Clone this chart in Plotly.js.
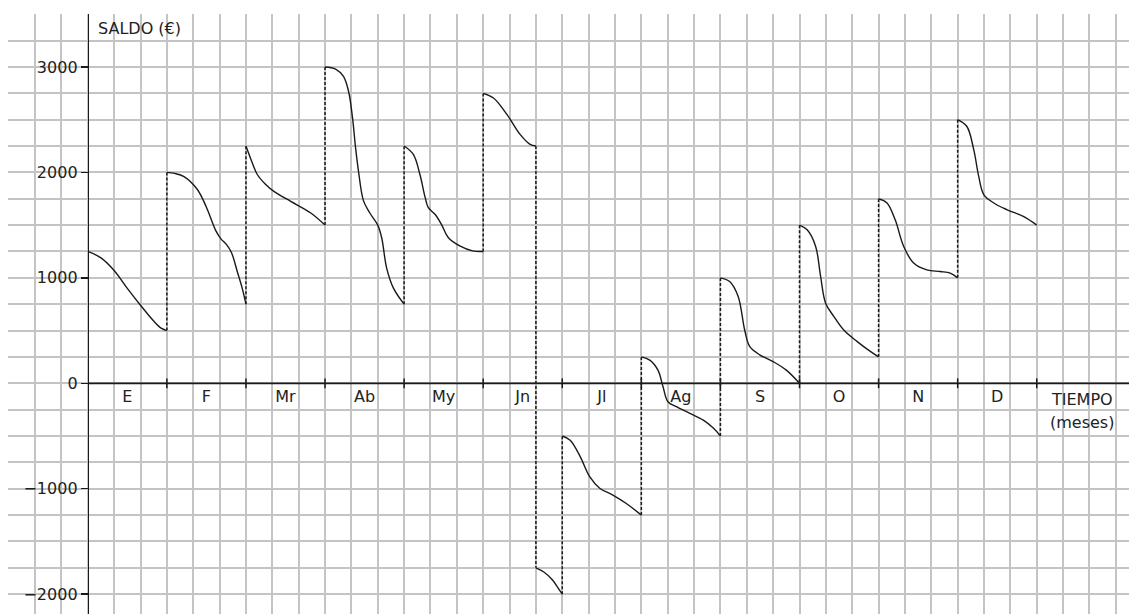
<!DOCTYPE html>
<html>
<head>
<meta charset="utf-8">
<script src="https://cdn.plot.ly/plotly-3.0.1.min.js"></script>
<style>
  html, body { margin: 0; padding: 0; background: #fff; }
  #chart { width: 1129px; height: 614px; }
</style>
</head>
<body>
<div id="chart"></div>
<script>
// ---- data (x in days, 30 days per month; y = saldo in euros) ----
const monthLabels = ["E", "F", "Mr", "Ab", "My", "Jn", "Jl", "Ag", "S", "O", "N", "D"];
const monthCenters = [15, 45, 75, 105, 135, 165, 195, 225, 255, 285, 315, 345];
const monthEnds = [30, 60, 90, 120, 150, 180, 210, 240, 270, 300, 330, 360];

const curveDays = [
  0, 5, 10, 15, 20, 25, 28, 30, null,
  30, 33, 36.5, 41.5, 45, 48.5, 50.5, 52.5, 54.5, 56.7, 58.6, 60, null,
  60, 61.8, 64.3, 67.5, 70.6, 77, 84.6, 90, null,
  90, 94, 97, 99, 100.5, 101.6, 102.7, 104.6, 107, 110, 111.5, 113.4, 116, 120, null,
  120, 123.5, 126, 128, 129.2, 131.8, 134.3, 136.8, 141.3, 146, 150, null,
  150, 153.9, 159, 164, 167.8, 170, null,
  170, 173, 176.3, 178.9, 180, null,
  180, 183, 186.8, 190.4, 194.2, 199.2, 204.3, 210, null,
  210, 213.2, 216.3, 218.2, 220.1, 223.3, 228.4, 233.5, 237.3, 240, null,
  240, 243.5, 246.7, 249.2, 251.1, 254.9, 260, 265, 270, null,
  270, 272.9, 276.1, 278, 279.9, 283, 286.8, 291.9, 297, 300, null,
  300, 303.2, 306.3, 309.5, 313.3, 318.3, 323.4, 327.2, 330, null,
  330, 333.5, 336.1, 338, 339.9, 343.7, 348.8, 355.1, 360
];
const curveSaldo = [
  1250, 1190, 1070, 900, 740, 590, 520, 500, null,
  2000, 1990, 1960, 1840, 1670, 1450, 1370, 1320, 1240, 1060, 900, 750, null,
  2250, 2130, 1980, 1885, 1820, 1725, 1615, 1500, null,
  3000, 2980, 2910, 2760, 2500, 2230, 2010, 1730, 1615, 1500, 1380, 1090, 900, 750, null,
  2250, 2170, 1980, 1760, 1665, 1600, 1500, 1380, 1300, 1255, 1250, null,
  2750, 2705, 2550, 2360, 2265, 2250, null,
  -1750, -1790, -1865, -1960, -2000, null,
  -500, -540, -695, -885, -995, -1060, -1140, -1250, null,
  250, 220, 125, -30, -175, -222, -285, -350, -425, -500, null,
  1000, 965, 825, 505, 350, 270, 205, 125, 0, null,
  1500, 1455, 1300, 1015, 760, 635, 505, 395, 300, 250, null,
  1750, 1710, 1550, 1300, 1140, 1075, 1060, 1045, 1000, null,
  2500, 2435, 2215, 1960, 1790, 1710, 1645, 1580, 1500
];

const jumpDays = [30, 60, 90, 120, 150, 170, 180, 210, 240, 270, 300, 330];
const jumpFrom = [500, 750, 1500, 750, 1250, 2250, -2000, -1250, -500, 0, 250, 1000];
const jumpTo   = [2000, 2250, 3000, 2250, 2750, -1750, -500, 250, 1000, 1500, 1750, 2500];

// ---- build traces ----
const jx = [], jy = [];
jumpDays.forEach((d, i) => { jx.push(d, d, null); jy.push(jumpFrom[i], jumpTo[i], null); });

const xRange = [-30.27, 395.0];
const yRange = [-2188, 3502];
const fontFam = "DejaVu Sans, Liberation Sans, Arial, sans-serif";
const gridCol = "#c4c4c4";

const traces = [
  { x: jx, y: jy, type: "scatter", mode: "lines", connectgaps: false,
    line: { color: "#1a1a1a", width: 1.5, dash: "3px,2px" }, hoverinfo: "skip" },
  { x: curveDays, y: curveSaldo, type: "scatter", mode: "lines", connectgaps: false,
    line: { color: "#1a1a1a", width: 1.4, shape: "spline", smoothing: 1.0 }, hoverinfo: "skip" },
  { x: monthEnds, y: monthEnds.map(() => 0), type: "scatter", mode: "markers",
    marker: { symbol: "line-ns", size: 7, line: { color: "#1a1a1a", width: 1.5 } }, hoverinfo: "skip" }
];

const xPos0 = (0 - xRange[0]) / (xRange[1] - xRange[0]);
const yPos0 = (0 - yRange[0]) / (yRange[1] - yRange[0]);

const layout = {
  width: 1129, height: 614,
  margin: { l: 8, r: 0, t: 14, b: 0, pad: 0 },
  paper_bgcolor: "#ffffff", plot_bgcolor: "#ffffff",
  showlegend: false,
  font: { family: fontFam, size: 16, color: "#222" },
  xaxis: {
    range: xRange, anchor: "free", position: yPos0,
    tickmode: "array", tickvals: monthCenters, ticktext: monthLabels,
    ticks: "", ticklabelstandoff: 2, showline: false, zeroline: false, showgrid: false,
    tickfont: { family: fontFam, size: 16, color: "#222" },
    minor: { tick0: 0, dtick: 10, showgrid: true, gridcolor: gridCol, gridwidth: 2 },
    fixedrange: true
  },
  yaxis: {
    range: yRange, anchor: "free", position: xPos0,
    tick0: 0, dtick: 1000, ticks: "outside", ticklen: 7, tickwidth: 1.5, tickcolor: "#1a1a1a",
    showline: true, linecolor: "#1a1a1a", linewidth: 1.6,
    zeroline: false, showgrid: true, gridcolor: gridCol, gridwidth: 2,
    tickfont: { family: fontFam, size: 16, color: "#222" },
    minor: { tick0: 0, dtick: 250, showgrid: true, gridcolor: gridCol, gridwidth: 2 },
    fixedrange: true
  },
  shapes: [
    { type: "line", xref: "x", yref: "y", x0: 0, x1: xRange[1], y0: 0, y1: 0,
      line: { color: "#1a1a1a", width: 1.8 } }
  ],
  annotations: [
    { xref: "x", yref: "y", x: 3.2, y: 3360, text: "SALDO (€)", showarrow: false,
      xanchor: "left", yanchor: "middle", font: { family: fontFam, size: 16, color: "#222" } },
    { xref: "x", yref: "y", x: 377.2, y: -150, text: "TIEMPO", showarrow: false,
      xanchor: "center", yanchor: "middle", font: { family: fontFam, size: 16, color: "#222" } },
    { xref: "x", yref: "y", x: 377.2, y: -373, text: "(meses)", showarrow: false,
      xanchor: "center", yanchor: "middle", font: { family: fontFam, size: 16, color: "#222" } }
  ]
};

Plotly.newPlot("chart", traces, layout, { staticPlot: true, displayModeBar: false });
</script>
</body>
</html>
